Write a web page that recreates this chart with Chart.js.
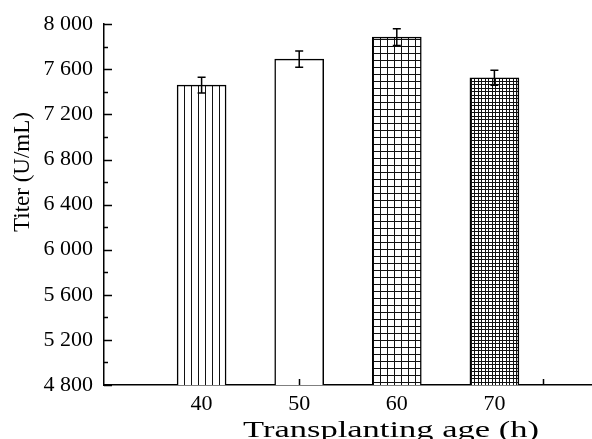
<!DOCTYPE html>
<html>
<head>
<meta charset="utf-8">
<script src="https://cdn.jsdelivr.net/npm/chart.js@4"></script>
<style>
  body { margin: 0; background: #fff; }
  #wrap { width: 592px; height: 439px; }
</style>
</head>
<body>
<div id="wrap"><canvas id="c" width="592" height="439"></canvas></div>
<script>
// data
const ages = [40, 50, 60, 70];
const titer = [7460, 7690, 7885, 7525];
const titerErr = [70, 72, 74, 66];
const xTickMarks = [50, 75];

const FONT = '"Liberation Serif", "Times New Roman", serif';

// --- hatch fills ---
function makePattern(draw) {
  const c = document.createElement('canvas');
  c.width = 7; c.height = 7;
  const g = c.getContext('2d');
  g.fillStyle = '#fff';
  g.fillRect(0, 0, 7, 7);
  g.fillStyle = '#111';
  draw(g);
  return g.createPattern(c, 'repeat');
}
const vLines = makePattern(g => g.fillRect(2, 0, 1, 7));
const grid = makePattern(g => { g.fillRect(2, 0, 1, 7); g.fillRect(0, 4, 7, 1); });
const denseGrid = makePattern(g => {
  g.fillRect(2, 0, 1, 7); g.fillRect(5, 0, 1, 7);
  g.fillRect(0, 0, 7, 1); g.fillRect(0, 4, 7, 1);
});
const fills = [vLines, '#fff', grid, denseGrid];

// error bars, inward ticks and axis titles
const extras = {
  id: 'extras',
  afterDatasetsDraw(chart) {
    const { ctx, scales: { x, y }, chartArea } = chart;
    ctx.save();
    ctx.strokeStyle = '#000';
    ctx.lineWidth = 1.5;
    ctx.beginPath();
    ages.forEach((a, i) => {
      const px = x.getPixelForValue(a);
      const hi = y.getPixelForValue(titer[i] + titerErr[i]);
      const lo = y.getPixelForValue(titer[i] - titerErr[i]);
      ctx.moveTo(px, hi); ctx.lineTo(px, lo);
      ctx.moveTo(px - 4, hi); ctx.lineTo(px + 4, hi);
      ctx.moveTo(px - 4, lo); ctx.lineTo(px + 4, lo);
    });
    y.ticks.forEach(t => {
      const py = Math.round(y.getPixelForValue(t.value)) + 0.5;
      const len = t.label ? 8 : 4;
      ctx.moveTo(chartArea.left, py); ctx.lineTo(chartArea.left + len, py);
    });
    xTickMarks.forEach(v => {
      const px = Math.round(x.getPixelForValue(v)) + 0.5;
      ctx.moveTo(px, chartArea.bottom); ctx.lineTo(px, chartArea.bottom - 6);
    });
    ctx.stroke();

    ctx.fillStyle = '#000';
    ctx.textAlign = 'center';
    ctx.textBaseline = 'alphabetic';
    // x title, stretched wide as in the figure
    ctx.save();
    ctx.font = '23px ' + FONT;
    ctx.translate(391, 437);
    ctx.scale(1.5, 1);
    ctx.fillText('Transplanting age (h)', 0, 0);
    ctx.restore();
    // y title
    ctx.font = '23px ' + FONT;
    ctx.translate(29, 172);
    ctx.rotate(-Math.PI / 2);
    ctx.fillText('Titer (U/mL)', 0, 0);
    ctx.restore();
  }
};

new Chart(document.getElementById('c'), {
  type: 'bar',
  data: {
    datasets: [{
      data: ages.map((a, i) => ({ x: a, y: titer[i] })),
      backgroundColor: fills,
      borderColor: '#000',
      borderWidth: 1.5,
      borderSkipped: 'bottom',
      barThickness: 49
    }]
  },
  options: {
    responsive: false,
    animation: false,
    layout: { padding: { top: 23, right: 0, left: 0, bottom: 0 } },
    plugins: { legend: { display: false }, tooltip: { enabled: false } },
    scales: {
      x: {
        type: 'linear',
        offset: false,
        min: 30, max: 80,
        afterFit: s => { s.height = 54; s.paddingLeft = 0; s.paddingRight = 0; },
        grid: { display: false, drawTicks: false },
        border: { display: true, color: '#000', width: 1.5 },
        ticks: {
          stepSize: 10,
          padding: 6,
          color: '#000',
          font: { family: FONT, size: 22 },
          maxRotation: 0,
          autoSkip: false,
          callback: v => ages.includes(v) ? String(v) : ''
        }
      },
      y: {
        min: 4800, max: 8000,
        beginAtZero: false,
        afterFit: s => { s.width = 104; },
        grid: { display: false, drawTicks: false },
        border: { display: true, color: '#000', width: 1.5 },
        ticks: {
          stepSize: 200,
          padding: 11,
          color: '#000',
          autoSkip: false,
          font: { family: FONT, size: 22 },
          callback: v => v % 400 === 0 ? String(v).replace(/\B(?=(\d{3})+(?!\d))/g, ' ') : ''
        }
      }
    }
  },
  plugins: [extras]
});
</script>
</body>
</html>
